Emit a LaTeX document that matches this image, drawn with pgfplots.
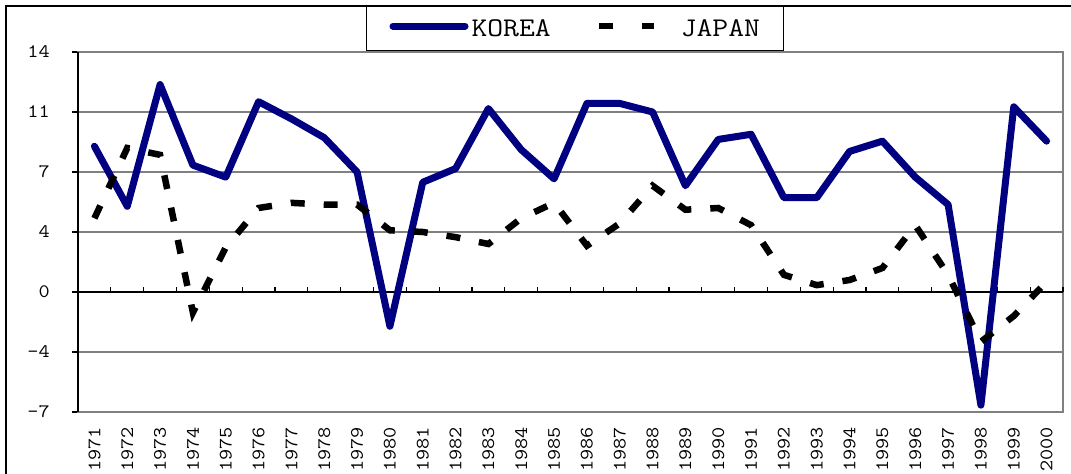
\documentclass[border=0pt]{standalone}
\usepackage{fontspec}
\newfontfamily\cour[FakeStretch=1.14]{Latin Modern Mono}
\usepackage{pgfplots}
\pgfplotsset{compat=1.18}
\definecolor{navy}{RGB}{0,0,128}
\definecolor{gridgray}{RGB}{128,128,128}
\begin{document}
\begin{tikzpicture}
\useasboundingbox (0bp,0bp) rectangle (1071bp,474bp);
\draw[black, line width=1.3bp] (6bp,0bp) -- (6bp,468bp) -- (1071bp,468bp);
\begin{axis}[
  at={(78bp,62bp)}, anchor=south west,
  scale only axis, width=985bp, height=360bp,
  xmin=-0.5, xmax=29.5, ymin=-7, ymax=14,
  clip=false,
  xtick={0,...,29},
  xticklabels={1971,1972,1973,1974,1975,1976,1977,1978,1979,1980,1981,1982,1983,1984,1985,1986,1987,1988,1989,1990,1991,1992,1993,1994,1995,1996,1997,1998,1999,2000},
  xtick style={draw=none},
  xticklabel style={rotate=90, anchor=east, inner sep=0pt, font=\cour\fontsize{19bp}{19bp}\selectfont},
  xticklabel shift=15bp,
  ytick={-7,-3.5,0,3.5,7,10.5,14},
  yticklabels={-7,-4,0,4,7,11,14},
  ytick pos=left,
  ytick align=outside,
  major tick length=6bp,
  ytick style={black, line width=1.3bp},
  yticklabel style={anchor=east, inner sep=0pt, font=\cour\fontsize{19bp}{19bp}\selectfont},
  yticklabel shift=22bp,
  ymajorgrids,
  major grid style={draw=gridgray, line width=1.3bp},
  axis line style={draw=gridgray, line width=1.6bp},
  legend columns=2,
  legend style={at={(0.29239,1.12778)}, anchor=north west, draw=black, line width=1bp, fill=white,
    inner xsep=23bp, inner ysep=13bp,
    nodes={inner sep=0pt},
    font=\cour\fontsize{27bp}{27bp}\selectfont,
    /tikz/column 1/.style={column sep=3bp},
    /tikz/column 2/.style={column sep=48bp},
    /tikz/column 3/.style={column sep=27bp}},
  legend cell align=left,
]
\draw[black, line width=1.4bp] (axis cs:-0.5,0) -- (axis cs:29.5,0);
\draw[black, line width=2bp] (axis cs:-0.5,-7) -- (axis cs:-0.5,14);
\pgfplotsinvokeforeach{-0.5,0.5,...,29.5}{\draw[black, line width=1.3bp] (axis cs:#1,0) -- ([yshift=5bp]axis cs:#1,0);}
\addplot[navy, line width=7bp, line join=round, line cap=round,
  legend image code/.code={\path[draw=none] (0bp,0bp) -- (79bp,0bp); \draw[navy, solid, line width=7bp, line cap=round] (3.5bp,2.5bp) -- (75.5bp,2.5bp);}]
  coordinates {(0,8.5) (1,5.0) (2,12.1) (3,7.4) (4,6.7) (5,11.1) (6,10.1) (7,9.0) (8,7.0) (9,-2.0)
  (10,6.4) (11,7.2) (12,10.7) (13,8.3) (14,6.6) (15,11.0) (16,11.0) (17,10.5) (18,6.2) (19,8.9)
  (20,9.2) (21,5.5) (22,5.5) (23,8.2) (24,8.8) (25,6.7) (26,5.1) (27,-6.6) (28,10.8) (29,8.8)};
\addlegendentry{KOREA}
\addplot[black, line width=6.5bp, line join=miter, dash pattern=on 14bp off 19bp,
  legend image code/.code={\path[draw=none] (0bp,0bp) -- (55bp,0bp); \fill[black, draw=none] (0bp,-0.5bp) rectangle (14bp,5.5bp); \fill[black, draw=none] (43bp,-0.5bp) rectangle (55bp,5.5bp);}]
  coordinates {(0,4.3) (1,8.4) (2,8.0) (3,-1.2) (4,2.6) (5,4.9) (6,5.2) (7,5.1) (8,5.1) (9,3.6)
  (10,3.5) (11,3.2) (12,2.8) (13,4.3) (14,5.2) (15,2.7) (16,4.0) (17,6.2) (18,4.8) (19,4.9)
  (20,3.9) (21,1.0) (22,0.4) (23,0.7) (24,1.4) (25,3.9) (26,1.0) (27,-2.9) (28,-1.4) (29,0.6)};
\addlegendentry{JAPAN\hspace{8bp}}
\end{axis}
\end{tikzpicture}
\end{document}
